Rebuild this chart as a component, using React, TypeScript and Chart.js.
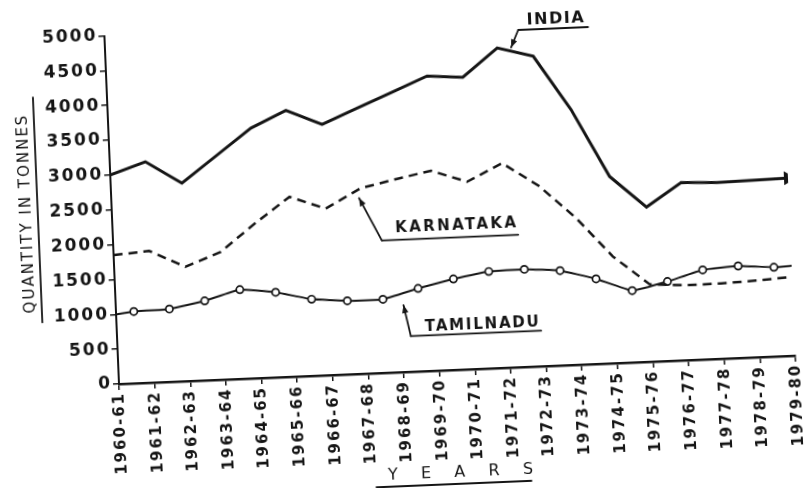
import React, { useEffect, useRef } from 'react';
import { Chart, registerables } from 'chart.js';

Chart.register(...registerables);

// ---- data (in the chart's own axis frame) ----
const YEARS = [
  '1960-61', '1961-62', '1962-63', '1963-64', '1964-65', '1965-66', '1966-67',
  '1967-68', '1968-69', '1969-70', '1970-71', '1971-72', '1972-73', '1973-74',
  '1974-75', '1975-76', '1976-77', '1977-78', '1978-79', '1979-80',
];
const INDIA = [3000, 3170, 2840, 3215, 3590, 3820, 3600, 3810, 4020, 4230, 4190, 4590, 4450, 3660, 2680, 2220, 2550, 2530, 2540, 2550];
const KARNATAKA = [1850, 1890, 1640, 1830, 2220, 2580, 2390, 2660, 2770, 2870, 2690, 2935, 2590, 2110, 1530, 1110, 1075, 1080, 1100, 1130];
// Tamilnadu circles sit midway between year ticks
const TAMILNADU_START = 1000;
const TAMILNADU = [1030, 1045, 1140, 1280, 1220, 1100, 1055, 1055, 1190, 1305, 1390, 1400, 1360, 1220, 1030, 1140, 1285, 1320, 1280];
const TAMILNADU_END = 1290;
const Y_MAX = 5000;
const Y_STEP = 500;

const INK = '#151515';
const FONT = '"DejaVu Sans", sans-serif';

// call-out labels (text placed in data units)
const CALLOUTS = [
  { text: 'INDIA', cx: 12.68, cy: 4969, u1: 11.61, u2: 13.57, uy: 4835, tx: 11.39, ty: 4588, size: 16, spacing: 1.5 },
  { text: 'KARNATAKA', cx: 9.66, cy: 2069, u1: 7.54, u2: 11.37, uy: 1900, tx: 6.95, ty: 2521, size: 15, spacing: 2.4 },
  { text: 'TAMILNADU', cx: 10.27, cy: 626, u1: 8.24, u2: 11.9, uy: 510, tx: 8.07, ty: 960, size: 15, spacing: 1.8 },
];

const PAD_LEFT = 25;
const AXIS_X = 119;

function arrowTo(ctx: CanvasRenderingContext2D, x1: number, y1: number, x2: number, y2: number) {
  ctx.beginPath();
  ctx.moveTo(x1, y1);
  ctx.lineTo(x2, y2);
  ctx.stroke();
  const a = Math.atan2(y2 - y1, x2 - x1);
  const L = 8, W = 3.2;
  ctx.beginPath();
  ctx.moveTo(x2, y2);
  ctx.lineTo(x2 - L * Math.cos(a) + W * Math.sin(a), y2 - L * Math.sin(a) - W * Math.cos(a));
  ctx.lineTo(x2 - L * Math.cos(a) - W * Math.sin(a), y2 - L * Math.sin(a) + W * Math.cos(a));
  ctx.closePath();
  ctx.fill();
}

const calloutPlugin = {
  id: 'callouts',
  beforeDraw(chart: any) {
    (chart.ctx as any).letterSpacing = '2px';
  },
  afterDraw(chart: any) {
    const { ctx, scales } = chart;
    const xs = scales.x, ys = scales.y;
    ctx.save();
    ctx.strokeStyle = INK;
    ctx.fillStyle = INK;
    ctx.lineWidth = 1.8;
    ctx.lineCap = 'round';
    for (const c of CALLOUTS) {
      ctx.font = `bold ${c.size}px ${FONT}`;
      (ctx as any).letterSpacing = `${c.spacing}px`;
      ctx.textAlign = 'center';
      ctx.textBaseline = 'middle';
      ctx.fillText(c.text, xs.getPixelForValue(c.cx), ys.getPixelForValue(c.cy));
      const ux1 = xs.getPixelForValue(c.u1), ux2 = xs.getPixelForValue(c.u2), uy = ys.getPixelForValue(c.uy);
      ctx.beginPath();
      ctx.moveTo(ux1, uy);
      ctx.lineTo(ux2, uy);
      ctx.stroke();
      arrowTo(ctx, ux1, uy, xs.getPixelForValue(c.tx), ys.getPixelForValue(c.ty));
    }
    // underline of the y-axis title
    const lx = ys.left + 20;
    ctx.beginPath();
    ctx.moveTo(lx, ys.getPixelForValue(4160));
    ctx.lineTo(lx, ys.getPixelForValue(930));
    ctx.stroke();
    // underline of the x-axis title
    ctx.font = `16px ${FONT}`;
    (ctx as any).letterSpacing = '2px';
    const w = ctx.measureText('Y   E   A   R   S').width;
    const mid = (xs.left + xs.right) / 2 - 8;
    const by = xs.bottom;
    ctx.beginPath();
    ctx.moveTo(mid - w / 2 - 4, by);
    ctx.lineTo(mid + w / 2 + 4, by);
    ctx.stroke();
    ctx.restore();
  },
};

export default function App() {
  const ref = useRef<HTMLCanvasElement | null>(null);

  useEffect(() => {
    if (!ref.current) return;
    const last = INDIA.length - 1;
    const tamil = [
      { x: 0, y: TAMILNADU_START },
      ...TAMILNADU.map((v, i) => ({ x: i + 0.5, y: v })),
      { x: YEARS.length - 1, y: TAMILNADU_END },
    ];
    const chart = new Chart(ref.current, {
      type: 'line',
      data: {
        datasets: [
          {
            label: 'INDIA',
            data: INDIA.map((v, i) => ({ x: i, y: v })),
            borderColor: INK,
            borderWidth: 3,
            pointRadius: INDIA.map((_, i) => (i === last ? 5 : 0)),
            pointStyle: 'triangle',
            pointRotation: 90,
            pointBackgroundColor: INK,
            pointBorderColor: INK,
            tension: 0,
          },
          {
            label: 'KARNATAKA',
            data: KARNATAKA.map((v, i) => ({ x: i, y: v })),
            borderColor: INK,
            borderWidth: 2.5,
            borderDash: [9, 6],
            pointRadius: 0,
            tension: 0,
          },
          {
            label: 'TAMILNADU',
            data: tamil,
            borderColor: INK,
            borderWidth: 2,
            pointRadius: tamil.map((_, i) => (i === 0 || i === tamil.length - 1 ? 0 : 3.6)),
            pointStyle: 'circle',
            pointBackgroundColor: '#ffffff',
            pointBorderColor: INK,
            pointBorderWidth: 1.7,
            tension: 0.1,
          },
        ],
      },
      options: {
        responsive: false,
        animation: false,
        layout: { padding: { left: PAD_LEFT, top: 35.5, right: 5, bottom: 12 } },
        plugins: { legend: { display: false }, tooltip: { enabled: false } },
        scales: {
          x: {
            type: 'linear',
            min: 0,
            max: YEARS.length - 1,
            afterFit: (s: any) => {
              s.height = 114;
              s.paddingLeft = 0;
              s.paddingRight = 0;
            },
            ticks: {
              stepSize: 1,
              autoSkip: false,
              minRotation: 90,
              maxRotation: 90,
              padding: 2,
              color: INK,
              font: { family: FONT, size: 15, weight: 'bold' },
              callback: (v: any) => YEARS[v] ?? '',
            },
            grid: { display: true, drawOnChartArea: false, drawTicks: true, tickLength: 6, color: INK, lineWidth: 1.5 },
            border: { display: true, color: INK, width: 2.5 },
            title: { display: true, text: 'Y   E   A   R   S', color: INK, font: { family: FONT, size: 16 }, padding: { top: 0, bottom: 2 } },
          },
          y: {
            min: 0,
            max: Y_MAX,
            afterFit: (s: any) => {
              s.width = AXIS_X - PAD_LEFT;
            },
            ticks: {
              stepSize: Y_STEP,
              padding: 1,
              color: INK,
              font: { family: FONT, size: 17, weight: 'bold' },
              callback: (v: any) => String(v),
            },
            grid: { display: true, drawOnChartArea: false, drawTicks: true, tickLength: 6, color: INK, lineWidth: 1.5 },
            border: { display: true, color: INK, width: 2 },
            title: { display: true, text: 'QUANTITY IN TONNES', color: INK, font: { family: FONT, size: 15 }, padding: 0 },
          },
        },
      },
      plugins: [calloutPlugin],
    } as any);
    return () => chart.destroy();
  }, []);

  return (
    <div style={{ position: 'fixed', left: 0, top: 0, width: 804, height: 488, overflow: 'hidden', background: '#fff' }}>
      <div
        style={{
          position: 'absolute',
          left: 0,
          top: 0,
          width: 804,
          height: 510,
          transform: 'rotate(-2.4deg)',
          transformOrigin: `${AXIS_X}px 384px`,
        }}
      >
        <canvas ref={ref} width={804} height={510} style={{ width: 804, height: 510, display: 'block' }} />
      </div>
    </div>
  );
}
